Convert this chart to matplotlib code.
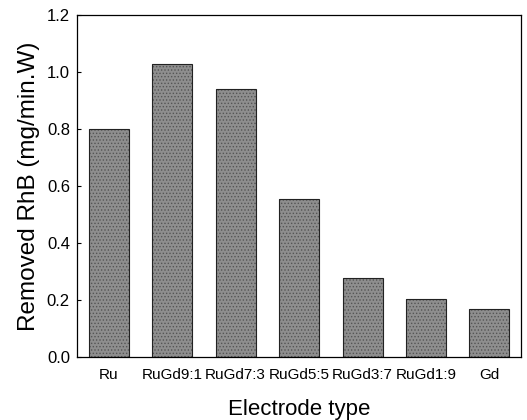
import matplotlib
matplotlib.use("Agg")
import matplotlib.pyplot as plt

categories = ["Ru", "RuGd9:1", "RuGd7:3", "RuGd5:5", "RuGd3:7", "RuGd1:9", "Gd"]
values = [0.80, 1.028, 0.94, 0.553, 0.278, 0.205, 0.168]
yticks = [0.0, 0.2, 0.4, 0.6, 0.8, 1.0, 1.2]

plt.rcParams['font.family'] = ['Liberation Sans', 'DejaVu Sans']
plt.rcParams['hatch.color'] = '#555555'
plt.rcParams['hatch.linewidth'] = 0.6
fig = plt.figure(figsize=(5.27, 4.2), dpi=100)
ax = fig.add_axes([0.146, 0.15, 0.843, 0.814])
x = list(range(len(categories)))
bars = ax.bar(x, values, width=0.63, color='#8e8e8e', edgecolor='#555555', linewidth=0, hatch='.....')
for b in bars:
    ax.add_patch(plt.Rectangle(b.get_xy(), b.get_width(), b.get_height(),
                               fill=False, edgecolor='#222222', linewidth=0.8))
ax.set_xlim(-0.5, len(categories) - 0.5)
ax.set_ylim(0, 1.2)
ax.set_yticks(yticks)
ax.set_yticklabels([f"{t:.1f}" for t in yticks], fontsize=12)
ax.set_xticks(x)
ax.set_xticklabels(categories, fontsize=11)
ax.tick_params(axis='x', length=0, pad=8)
ax.tick_params(axis='y', direction='in', length=3, width=0.8, pad=5)
ax.set_xlabel("Electrode type", fontsize=16, labelpad=12)
ax.set_ylabel("Removed RhB (mg/min.W)", fontsize=17.5, labelpad=5)
for s in ax.spines.values():
    s.set_linewidth(0.9)
fig.savefig("out.png", dpi=100)
